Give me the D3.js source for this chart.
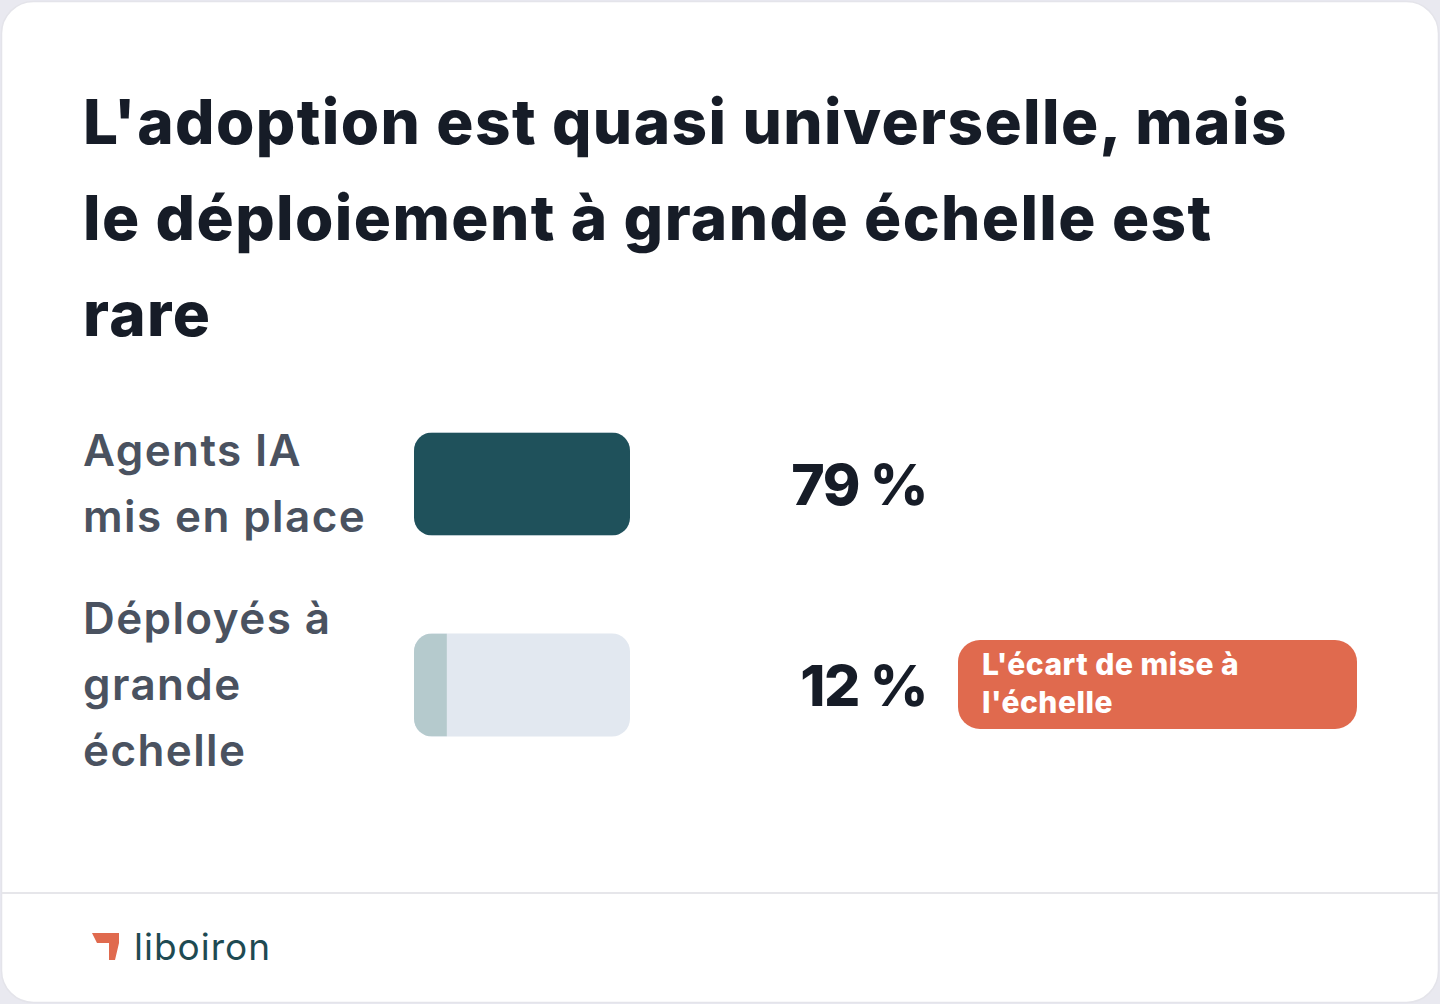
<!DOCTYPE html>
<html>
<head>
<meta charset="utf-8">
<script src="https://cdn.jsdelivr.net/npm/d3@7"></script>
<style>
  html, body { margin: 0; padding: 0; background: #e9e9f0; }
  svg { display: block; }
  text { font-family: Inter, 'Noto Sans', sans-serif; }
</style>
</head>
<body>
<div id="chart"></div>
<script>
'use strict';

const titleLines = ["L'adoption est quasi universelle, mais", 'le déploiement à grande échelle est', 'rare'];
const categories = ['Agents IA mis en place', 'Déployés à grande échelle'];
const labelLines = [['Agents IA', 'mis en place'], ['Déployés à', 'grande', 'échelle']];
const values = [79, 12];
const valueLabels = ['79 %', '12 %'];
const calloutLines = ["L'écart de mise à", "l'échelle"];
const brand = 'liboiron';

const width = 1440;
const height = 1004;
const barLeft = 414;
const barWidth = 216;
const barHeight = 103;

const svg = d3.select('#chart')
  .append('svg')
  .attr('width', width)
  .attr('height', height);

// card
svg.append('rect')
  .attr('x', 1.5)
  .attr('y', 1.5)
  .attr('width', width - 3)
  .attr('height', height - 3)
  .attr('rx', 32)
  .attr('fill', 'white')
  .attr('stroke', '#e4e4ea')
  .attr('stroke-width', 1.5);

svg.append('line')
  .attr('x1', 2)
  .attr('x2', width - 2)
  .attr('y1', 893)
  .attr('y2', 893)
  .attr('stroke', '#e6e6ea')
  .attr('stroke-width', 2);

// title
svg.append('text')
  .attr('font-size', 62)
  .attr('font-weight', 800)
  .attr('fill', '#161c27')
  .attr('letter-spacing', 1.4)
  .selectAll('tspan')
  .data(titleLines)
  .join('tspan')
  .attr('x', 83)
  .attr('y', (d, i) => 144 + i * 96)
  .text((d) => d);

const x = d3.scaleLinear()
  .domain([0, d3.max(values)])
  .range([0, barWidth]);

const y = d3.scalePoint()
  .domain(categories)
  .range([484, 685]);

const rows = svg.selectAll('g.row')
  .data(categories)
  .join('g')
  .attr('class', 'row')
  .attr('transform', (d) => `translate(0, ${y(d)})`);

// category labels
rows.append('text')
  .attr('font-size', 44)
  .attr('font-weight', 600)
  .attr('fill', '#4a5260')
  .attr('letter-spacing', 1.4)
  .selectAll('tspan')
  .data((d, i) => labelLines[i].map((t, j) => ({ t, j, n: labelLines[i].length })))
  .join('tspan')
  .attr('x', 83)
  .attr('y', (d) => (d.j - (d.n - 1) / 2) * 66 + 15)
  .text((d) => d.t);

const defs = svg.append('defs');
defs.selectAll('clipPath')
  .data(categories)
  .join('clipPath')
  .attr('id', (d, i) => `clip${i}`)
  .append('rect')
  .attr('x', barLeft)
  .attr('y', (d) => y(d) - barHeight / 2)
  .attr('width', barWidth)
  .attr('height', barHeight)
  .attr('rx', 18);

rows.append('rect')
  .attr('x', barLeft)
  .attr('y', -barHeight / 2)
  .attr('width', barWidth)
  .attr('height', barHeight)
  .attr('rx', 18)
  .attr('fill', '#e2e8f0');

svg.selectAll('rect.bar')
  .data(categories)
  .join('rect')
  .attr('class', 'bar')
  .attr('clip-path', (d, i) => `url(#clip${i})`)
  .attr('x', barLeft)
  .attr('y', (d) => y(d) - barHeight / 2)
  .attr('width', (d, i) => x(values[i]))
  .attr('height', barHeight)
  .attr('fill', (d, i) => i === 0 ? '#1f515b' : '#b5cacd');

// value labels
rows.append('text')
  .attr('x', 927)
  .attr('y', 21)
  .attr('text-anchor', 'end')
  .attr('font-size', 57)
  .attr('font-weight', 800)
  .attr('fill', '#161c27')
  .attr('letter-spacing', -1.5)
  .text((d, i) => valueLabels[i]);

// callout on the second row
const callout = svg.append('g')
  .attr('transform', `translate(958, ${y(categories[1]) - 45})`);

callout.append('rect')
  .attr('width', 399)
  .attr('height', 89)
  .attr('rx', 22)
  .attr('fill', '#e06a4e');

callout.append('text')
  .attr('font-size', 30)
  .attr('font-weight', 800)
  .attr('fill', 'white')
  .attr('letter-spacing', 0.5)
  .selectAll('tspan')
  .data(calloutLines)
  .join('tspan')
  .attr('x', 24)
  .attr('y', (d, i) => 35 + i * 38)
  .text((d) => d);

// footer brand
svg.append('path')
  .attr('d', 'M92,933 L119,933 L119,943 L115,960 L109,960 L109,943 L97,943 Z')
  .attr('fill', '#e06a4e');

svg.append('text')
  .attr('x', 134)
  .attr('y', 960)
  .attr('font-size', 37)
  .attr('font-weight', 400)
  .attr('fill', '#1e4a52')
  .attr('letter-spacing', 1)
  .text(brand);
</script>
</body>
</html>
